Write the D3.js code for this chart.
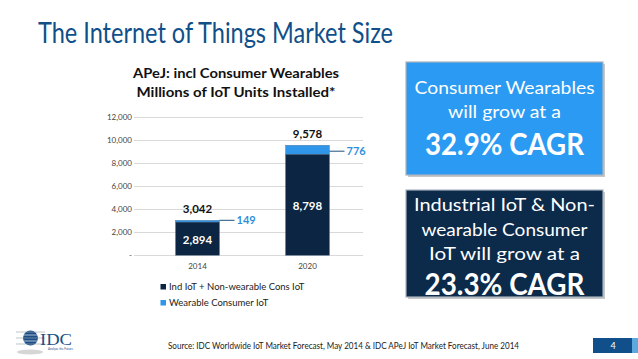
<!DOCTYPE html>
<html><head><meta charset="utf-8">
<script src="https://cdn.jsdelivr.net/npm/d3@7"></script>
<style>
html,body{margin:0;padding:0;background:#fff;}
svg{display:block;font-family:Lato,"Open Sans",sans-serif;}
</style></head>
<body><svg id="c" width="638" height="359"></svg>
<script>
const categories = ["2014", "2020"];
const indIoT = [2894, 8798];
const wearable = [149, 776];
const totals = [3042, 9578];
const yTicks = [0, 2000, 4000, 6000, 8000, 10000, 12000];
const seriesNames = ["Ind IoT + Non-wearable Cons IoT", "Wearable Consumer IoT"];
const colors = ["#0c2542", "#2f96ea"];

const svg = d3.select("#c");

// Page title
svg.append("text").attr("x", 38).attr("y", 43)
  .attr("font-size", 29).attr("fill", "#104f89")
  .attr("textLength", 355).attr("lengthAdjust", "spacingAndGlyphs")
  .text("The Internet of Things Market Size");

// Chart title
const ct = svg.append("text").attr("text-anchor", "middle").attr("font-weight", "bold")
  .attr("font-size", 13.5).attr("fill", "#111");
ct.append("tspan").attr("x", 236).attr("y", 78).attr("textLength", 206).attr("lengthAdjust","spacingAndGlyphs").text("APeJ: incl Consumer Wearables");
ct.append("tspan").attr("x", 236).attr("y", 96.5).attr("textLength", 199).attr("lengthAdjust","spacingAndGlyphs").text("Millions of IoT Units Installed*");

// Scales
const y = d3.scaleLinear().domain([0, 12000]).range([255.3, 117.3]);
const x = d3.scaleBand().domain(categories).range([142.5, 362.5]).paddingInner(0.6).paddingOuter(0.3);

// Grid
svg.append("g").selectAll("line").data(yTicks).join("line")
  .attr("x1", 134).attr("x2", 363)
  .attr("y1", d => Math.round(y(d)) + 0.5).attr("y2", d => Math.round(y(d)) + 0.5)
  .attr("stroke", "#d9d9d9").attr("stroke-width", 1);

// Y axis labels
const yAxis = d3.axisLeft(y).tickValues(yTicks).tickSize(0).tickPadding(0)
  .tickFormat(d => d === 0 ? "-" : d3.format(",")(d));
const ya = svg.append("g").attr("transform", "translate(132,0)").call(yAxis);
ya.select(".domain").remove();
ya.selectAll("text").attr("font-size", 8).attr("fill", "#444").attr("font-family", "Lato, sans-serif");

// X axis labels
const xAxis = d3.axisBottom(x).tickSize(0).tickPadding(0);
const xa = svg.append("g").attr("transform", "translate(0,263)").call(xAxis);
xa.select(".domain").remove();
xa.selectAll("text").attr("font-size", 8).attr("fill", "#444").attr("font-family", "Lato, sans-serif");

// Bars
const stackData = categories.map((c, i) => ({cat: c, ind: indIoT[i], wear: wearable[i]}));
const stack = d3.stack().keys(["ind", "wear"])(stackData);
svg.append("g").selectAll("g").data(stack).join("g")
  .attr("fill", (d, i) => colors[i])
  .selectAll("rect").data(d => d).join("rect")
  .attr("x", d => x(d.data.cat)).attr("width", x.bandwidth())
  .attr("y", d => y(d[1])).attr("height", d => y(d[0]) - y(d[1]))
  .attr("stroke", "#5a7590").attr("stroke-width", 0.4);

// Total labels
svg.append("g").selectAll("text").data(categories).join("text")
  .attr("x", d => x(d) + x.bandwidth() / 2)
  .attr("y", (d, i) => y(totals[i]) - 7)
  .attr("text-anchor", "middle").attr("font-weight", "bold").attr("font-size", 11.5).attr("fill", "#111")
  .text((d, i) => d3.format(",")(totals[i]));

// Inner labels
svg.append("g").selectAll("text").data(categories).join("text")
  .attr("x", d => x(d) + x.bandwidth() / 2)
  .attr("y", (d, i) => i === 0 ? 244 : 209.5)
  .attr("text-anchor", "middle").attr("font-weight", "bold").attr("font-size", 11.5).attr("fill", "#fff")
  .text((d, i) => d3.format(",")(indIoT[i]));

// Wearable callouts
const co = svg.append("g");
categories.forEach((c, i) => {
  const yy = y(indIoT[i] + wearable[i]) + (i === 0 ? 0 : 6);
  const x0 = x(c) + x.bandwidth();
  co.append("line").attr("x1", x0).attr("x2", x0 + 15).attr("y1", yy).attr("y2", yy)
    .attr("stroke", "#1f4f7a").attr("stroke-width", 1);
  co.append("text").attr("x", x0 + 17).attr("y", yy + 4)
    .attr("font-weight", "bold").attr("font-size", 11).attr("fill", "#2f8fdc")
    .text(d3.format(",")(wearable[i]));
});

// Legend
const lg = svg.append("g");
seriesNames.forEach((n, i) => {
  const ly = 284 + i * 16;
  lg.append("rect").attr("x", 160.5).attr("y", ly).attr("width", 5.5).attr("height", 5.5).attr("fill", colors[i]);
  lg.append("text").attr("x", 169).attr("y", ly + 5.5).attr("font-size", 9.5).attr("fill", "#222")
    .text(n);
});

// Callout boxes
function box(x0, y0, w, h, fill, lines) {
  const g = svg.append("g");
  g.append("rect").attr("x", x0 + 2).attr("y", y0 + 2).attr("width", w).attr("height", h).attr("fill", "#c8c8c8");
  g.append("rect").attr("x", x0).attr("y", y0).attr("width", w).attr("height", h).attr("fill", fill)
    .attr("stroke", "#a9b3bd").attr("stroke-width", 1.2);
  lines.forEach(l => {
    const t = g.append("text").attr("x", x0 + w / 2).attr("y", l.y).attr("text-anchor", "middle")
      .attr("fill", "#fff").attr("font-size", l.size).attr("font-weight", l.bold ? "bold" : "normal")
      .text(l.t);
    if (l.len) t.attr("textLength", l.len).attr("lengthAdjust", "spacingAndGlyphs");
  });
}
box(406, 62, 197, 113, "#2b9af2", [
  {t: "Consumer Wearables", y: 94, size: 18, len: 180},
  {t: "will grow at a", y: 118, size: 18, len: 113},
  {t: "32.9% CAGR", y: 155, size: 30, bold: true, len: 159}
]);
box(406, 190, 197, 107, "#0c2a4a", [
  {t: "Industrial IoT & Non-", y: 211, size: 18, len: 181},
  {t: "wearable Consumer", y: 235.5, size: 18, len: 166},
  {t: "IoT will grow at a", y: 260, size: 18, len: 151},
  {t: "23.3% CAGR", y: 295, size: 30, bold: true, len: 160}
]);

// Footer source
svg.append("text").attr("x", 168).attr("y", 349).attr("font-size", 8.5).attr("fill", "#222")
  .attr("textLength", 351).attr("lengthAdjust", "spacingAndGlyphs")
  .text("Source: IDC Worldwide IoT Market Forecast, May 2014 & IDC APeJ IoT Market Forecast, June 2014");

// Page number
svg.append("rect").attr("x", 593).attr("y", 338).attr("width", 39).attr("height", 15).attr("fill", "#104f89");
svg.append("rect").attr("x", 632).attr("y", 338).attr("width", 6).attr("height", 15).attr("fill", "#5ea8e0");
svg.append("text").attr("x", 613).attr("y", 349).attr("text-anchor", "middle").attr("font-size", 9).attr("fill", "#fff").text("4");

// IDC logo
const logo = svg.append("g");
logo.append("ellipse").attr("cx", 30).attr("cy", 352).attr("rx", 13).attr("ry", 2.5).attr("fill", "#d6d6d6");
logo.append("circle").attr("cx", 30.5).attr("cy", 338).attr("r", 7.5).attr("fill", "#1d4f86");
[332, 335, 338, 341, 344].forEach((yy, i) => {
  logo.append("line").attr("x1", 16 + i % 2).attr("x2", 45).attr("y1", yy).attr("y2", yy)
    .attr("stroke", i % 2 ? "#ffffff" : "#9aa4ae").attr("stroke-width", 0.8).attr("opacity", 0.8);
});
logo.append("text").attr("x", 40).attr("y", 344.5).attr("font-family", "'Liberation Serif', serif")
  .attr("font-size", 17).attr("fill", "#1d4f86").attr("textLength", 32).attr("lengthAdjust", "spacingAndGlyphs").text("IDC");
logo.append("text").attr("x", 48).attr("y", 350).attr("font-size", 3.5).attr("fill", "#1d4f86")
  .attr("textLength", 25).attr("lengthAdjust", "spacingAndGlyphs").text("Analyze the Future");
</script>
</body></html>
